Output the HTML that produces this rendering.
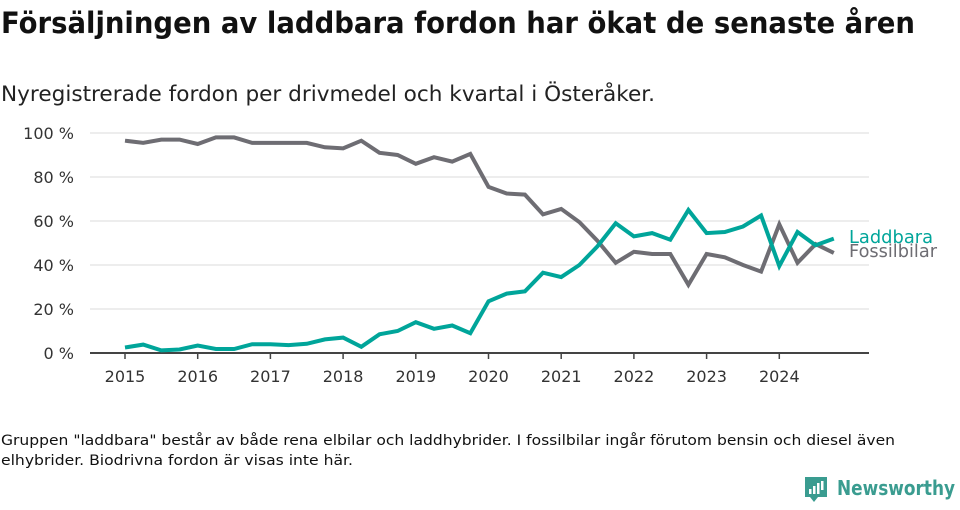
<!DOCTYPE html>
<html><head><meta charset="utf-8"><style>
body{margin:0;background:#fff;font-family:"Liberation Sans",sans-serif;}
svg text{font-family:"DejaVu Sans","Liberation Sans",sans-serif;}
</style></head><body>
<svg width="960" height="505" viewBox="0 0 960 505">
<text x="1" y="33" font-size="29" font-weight="bold" fill="#111" textLength="914" lengthAdjust="spacingAndGlyphs">Försäljningen av laddbara fordon har ökat de senaste åren</text>
<text x="1" y="101" font-size="21" fill="#222" textLength="654" lengthAdjust="spacingAndGlyphs">Nyregistrerade fordon per drivmedel och kvartal i Österåker.</text>
<g id="grid"></g><g id="xaxis"></g><g id="lines"></g>
<text x="849" y="243" font-size="18" fill="#00a59a" textLength="84" lengthAdjust="spacingAndGlyphs">Laddbara</text>
<text x="849" y="257" font-size="18" fill="#6e6d73" textLength="88" lengthAdjust="spacingAndGlyphs">Fossilbilar</text>
<text x="1" y="445" font-size="14" fill="#111" textLength="894" lengthAdjust="spacingAndGlyphs">Gruppen "laddbara" består av både rena elbilar och laddhybrider. I fossilbilar ingår förutom bensin och diesel även</text>
<text x="1" y="465" font-size="14" fill="#111" textLength="352" lengthAdjust="spacingAndGlyphs">elhybrider. Biodrivna fordon är visas inte här.</text>
<g>
<path d="M805 477h22v20h-9l-4 5-4-5h-5z" fill="#3a9c90"/>
<rect x="809" y="489" width="2.5" height="5" fill="#fff"/><rect x="813" y="486" width="2.5" height="8" fill="#fff"/><rect x="817" y="483" width="2.5" height="11" fill="#fff"/><rect x="821" y="481" width="2.5" height="9" fill="#fff"/>
<text x="837" y="495" font-size="20" font-weight="bold" fill="#3a9c90" textLength="118" lengthAdjust="spacingAndGlyphs">Newsworthy</text>
</g>
</svg>
<script>
const years=[2015,2016,2017,2018,2019,2020,2021,2022,2023,2024];
const yTicks=[0,20,40,60,80,100];
const fossil=[96.5,95.5,97,97,95,98,98,95.5,95.5,95.5,95.5,93.5,93,96.5,91,90,86,89,87,90.5,75.5,72.5,72,63,65.5,59.5,51,41,46,45,45,31,45,43.5,40,37,58.5,41,49.5,45.5];
const laddbara=[2.5,3.8,1.2,1.6,3.4,1.8,1.8,4,4,3.6,4.2,6.2,7,2.8,8.5,10,14,11,12.5,9,23.5,27,28,36.5,34.5,40,48.5,59,53,54.5,51.5,65,54.5,55,57.5,62.5,39.5,55,49,52];
const NS='http://www.w3.org/2000/svg';
const x=t=>125+(t-2015)*72.7;
const y=v=>353-v*2.2;
function mk(tag,attrs,parent){const e=document.createElementNS(NS,tag);for(const k in attrs)e.setAttribute(k,attrs[k]);parent.appendChild(e);return e;}
const grid=document.getElementById('grid');
yTicks.forEach(v=>{
  if(v>0){const l=mk('line',{x1:90,x2:869,y1:y(v),y2:y(v),stroke:'#e2e2e2','stroke-width':1.3},grid);
  
  }
  const t=mk('text',{x:74,y:y(v)+6,'text-anchor':'end','font-size':16,fill:'#333'},grid);
  
  
  t.textContent=v+' %';
});
const xa=document.getElementById('xaxis');
const ax=mk('line',{x1:90,x2:869,y1:353,y2:353,stroke:'#444','stroke-width':2},xa);


years.forEach(yr=>{
  mk('line',{x1:x(yr),x2:x(yr),y1:353,y2:359,stroke:'#444','stroke-width':1.5},xa);
  const t=mk('text',{x:x(yr),y:382,'text-anchor':'middle','font-size':16,fill:'#333'},xa);
  
  
  t.textContent=yr;
});
const lg=document.getElementById('lines');
function draw(arr,color,name){
  const d=arr.map((v,i)=>(i?'L':'M')+x(2015+i/4).toFixed(1)+' '+y(v).toFixed(1)).join('');
  const p=mk('path',{d:d,fill:'none',stroke:color,'stroke-width':4,'stroke-linejoin':'miter'},lg);
  
  
}
draw(fossil,'#6e6d73','fossilbilar-line');
draw(laddbara,'#00a59a','laddbara-line');
</script>
</body></html>
